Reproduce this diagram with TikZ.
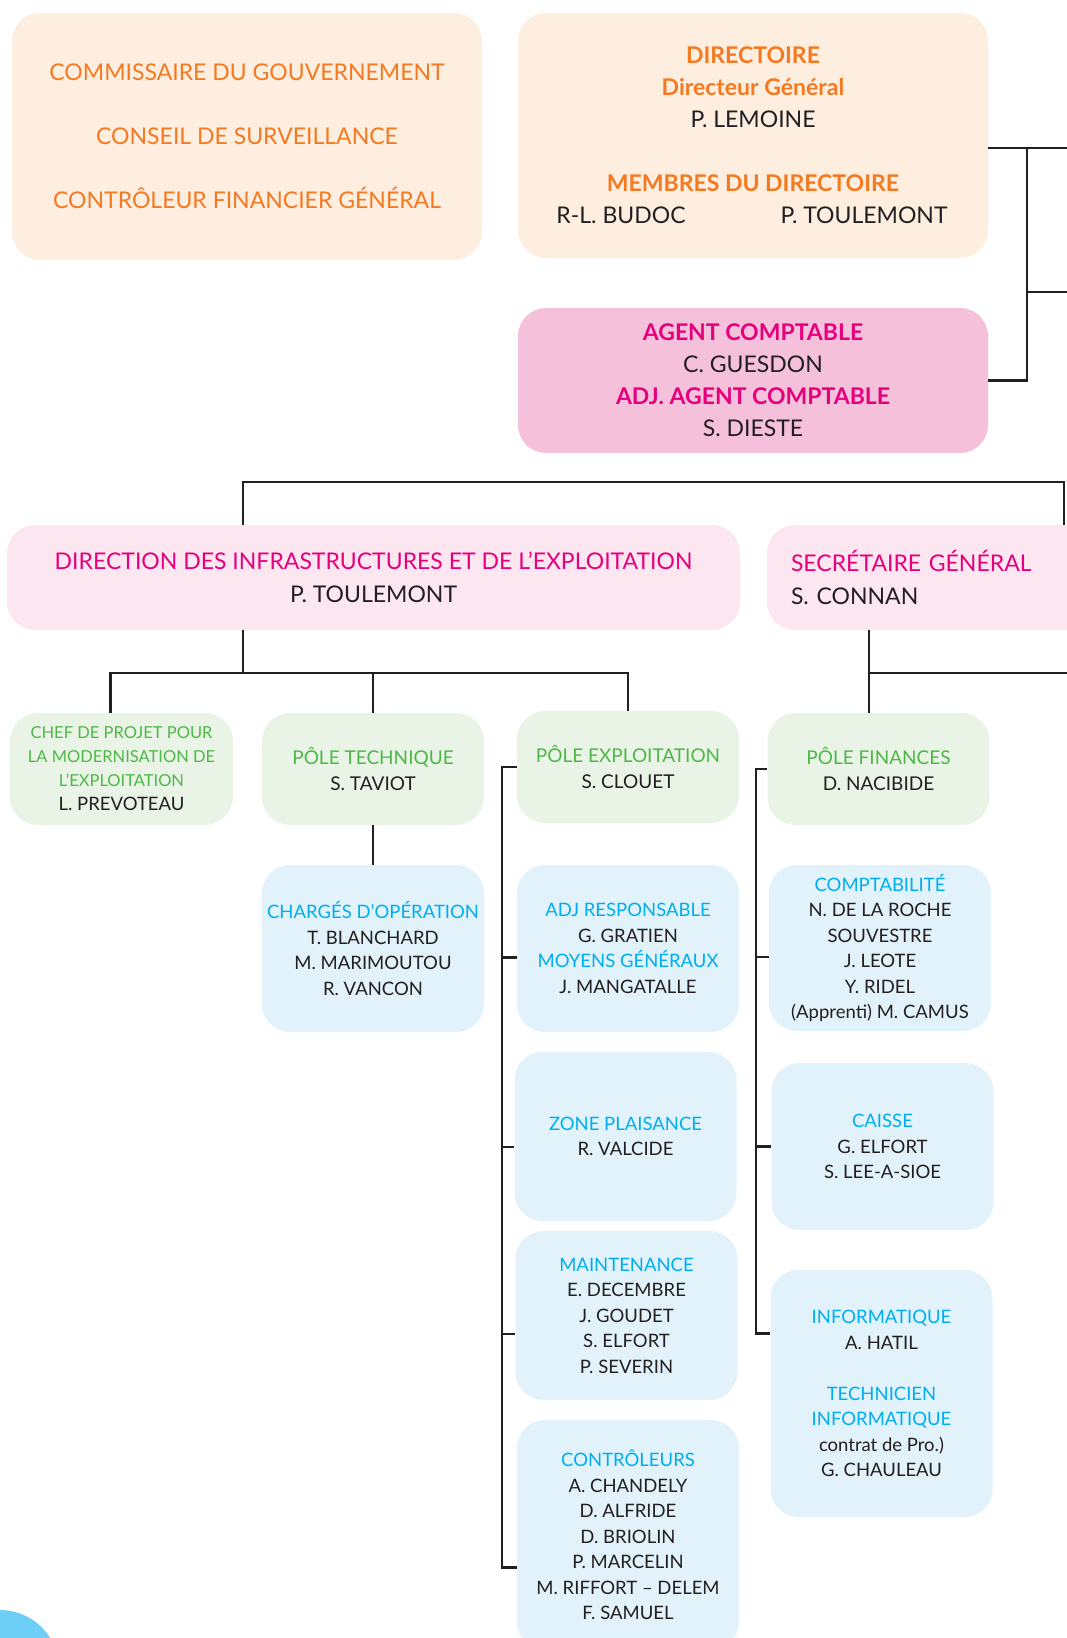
\documentclass[tikz,border=0pt]{standalone}
\usepackage{fontspec}
\setmainfont{Lato}
\definecolor{inkc}{RGB}{35,31,32}
\definecolor{orangec}{RGB}{244,121,32}
\definecolor{peachf}{RGB}{253,238,224}
\definecolor{magentac}{RGB}{230,0,126}
\definecolor{agentf}{RGB}{245,193,218}
\definecolor{rosef}{RGB}{252,231,240}
\definecolor{greenc}{RGB}{77,184,72}
\definecolor{greenf}{RGB}{234,244,230}
\definecolor{bluec}{RGB}{0,174,239}
\definecolor{bluef}{RGB}{225,242,251}
\definecolor{tabc}{RGB}{109,207,246}
\newcommand{\orangetxt}[1]{\textcolor{orangec}{#1}}
\newcommand{\magtxt}[1]{\textcolor{magentac}{#1}}
\newcommand{\greentxt}[1]{\textcolor{greenc}{#1}}
\newcommand{\bluetxt}[1]{\textcolor{bluec}{#1}}
\tikzset{
  box/.style={rectangle, rounded corners=28pt, inner sep=0pt, align=center, text=inkc},
  topbox/.style={box, fill=peachf, minimum width=470pt, font=\fontsize{23}{32}\selectfont},
  agentbox/.style={box, fill=agentf, minimum width=470pt, font=\fontsize{23}{32}\selectfont},
  rosebox/.style={box, fill=rosef, minimum height=105pt, font=\fontsize{23}{33}\selectfont},
  polebox/.style={box, fill=greenf, minimum width=222pt, minimum height=112pt, font=\fontsize{19}{25.5}\selectfont},
  unitbox/.style={box, fill=bluef, minimum width=222pt, font=\fontsize{18.5}{25.5}\selectfont},
  conn/.style={draw=inkc, line width=2.8pt},
}
\begin{document}
\begin{tikzpicture}[x=1pt,y=-1pt]
\useasboundingbox (0,0) rectangle (1067,1638);
\clip (0,0) rectangle (1067,1638);

\node[topbox, minimum height=247pt] (commgouv) at (247,136.5) {\orangetxt{COMMISSAIRE DU GOUVERNEMENT}\\[32pt]\orangetxt{CONSEIL DE SURVEILLANCE}\\[32pt]\orangetxt{CONTRÔLEUR FINANCIER GÉNÉRAL}};
\node[topbox, minimum height=245pt] (directoire) at (753,135.5) {\orangetxt{\bfseries DIRECTOIRE}\\\orangetxt{\bfseries Directeur Général}\\P. LEMOINE\\[32pt]\orangetxt{\bfseries MEMBRES DU DIRECTOIRE}\\\hspace*{-132pt}\makebox[0pt]{R-L. BUDOC}\hspace*{243pt}\makebox[0pt]{P. TOULEMONT}\hspace*{-111pt}};
\node[agentbox, minimum height=145pt] (agentcpt) at (753,380.5) {\magtxt{\bfseries AGENT COMPTABLE}\\C. GUESDON\\\magtxt{\bfseries ADJ. AGENT COMPTABLE}\\S. DIESTE};

\node[rosebox, minimum width=733pt] (dirinfra) at (373.5,577.5) {\magtxt{DIRECTION DES INFRASTRUCTURES ET DE L’EXPLOITATION}\\P. TOULEMONT};
\node[rosebox, align=left, text width=376pt, inner xsep=24pt] (secgen) at (979,577.5) {\magtxt{SECRÉTAIRE GÉNÉRAL}\\S. CONNAN};

\node[polebox, minimum width=223pt, font=\fontsize{16.5}{24}\selectfont] (chefproj) at (121.5,769) {\greentxt{CHEF DE PROJET POUR}\\\greentxt{LA MODERNISATION DE}\\\greentxt{L’EXPLOITATION}\\{\fontsize{18.5}{24}\selectfont L. PREVOTEAU}};
\node[polebox] (poletech) at (373,769) {\greentxt{PÔLE TECHNIQUE}\\S. TAVIOT};
\node[polebox] (poleexpl) at (628,767) {\greentxt{PÔLE EXPLOITATION}\\S. CLOUET};
\node[polebox] (polefin) at (878.5,769) {\greentxt{PÔLE FINANCES}\\D. NACIBIDE};

\node[unitbox, minimum height=167pt] (chargop) at (373,948.5) {\bluetxt{CHARGÉS D’OPÉRATION}\\T. BLANCHARD\\M. MARIMOUTOU\\R. VANCON};
\node[unitbox, minimum height=167pt] (adjresp) at (628,948.5) {\bluetxt{ADJ RESPONSABLE}\\G. GRATIEN\\\bluetxt{MOYENS GÉNÉRAUX}\\J. MANGATALLE};
\node[unitbox, minimum height=169pt] (zoneplais) at (625.5,1136.5) {\bluetxt{ZONE PLAISANCE}\\R. VALCIDE};
\node[unitbox, minimum height=169pt] (maint) at (626.5,1315.5) {\bluetxt{MAINTENANCE}\\E. DECEMBRE\\J. GOUDET\\S. ELFORT\\P. SEVERIN};
\node[unitbox, minimum height=230pt] (controle) at (628,1535) {\bluetxt{CONTRÔLEURS}\\A. CHANDELY\\D. ALFRIDE\\D. BRIOLIN\\P. MARCELIN\\M. RIFFORT – DELEM\\F. SAMUEL};
\node[unitbox, minimum height=166pt] (compta) at (880,948) {\bluetxt{COMPTABILITÉ}\\N. DE LA ROCHE\\SOUVESTRE\\J. LEOTE\\Y. RIDEL\\(Apprenti) M. CAMUS};
\node[unitbox, minimum height=167pt] (caisse) at (882.5,1146.5) {\bluetxt{CAISSE}\\G. ELFORT\\S. LEE-A-SIOE};
\node[unitbox, minimum height=247pt] (info) at (881.5,1393.5) {\bluetxt{INFORMATIQUE}\\A. HATIL\\[25.5pt]\bluetxt{TECHNICIEN}\\\bluetxt{INFORMATIQUE}\\contrat de Pro.)\\G. CHAULEAU};

\coordinate (spine) at (1027,148);
\coordinate (offdir) at (1067,148);
\coordinate (offmid) at (1067,292);
\coordinate (topbar) at (1064,482);
\coordinate (dieleg) at (243,0);
\coordinate (midbar) at (0,673);
\coordinate (sgleg) at (869,0);
\coordinate (offsg) at (1067,673);
\coordinate (ebar) at (502,0);
\coordinate (fbar) at (756,0);
\coordinate (adjtick) at ([yshift=-9pt]adjresp.west);
\coordinate (zonetick) at ([yshift=-10.5pt]zoneplais.west);
\coordinate (mainttick) at ([yshift=-18.5pt]maint.west);
\coordinate (ctrltick) at ([yshift=-32.5pt]controle.west);
\coordinate (comptatick) at ([yshift=-9pt]compta.west);
\coordinate (infotick) at ([yshift=60pt]info.west);

\draw[conn] ([yshift=-12.5pt]directoire.east) -- (offdir);
\draw[conn] (agentcpt.east) -| (spine);
\draw[conn] (spine |- offmid) -- (offmid);
\draw[conn] (secgen.north -| topbar) -- (topbar) -| (dirinfra.north -| dieleg);
\draw[conn] (dirinfra.south -| dieleg) -- (dieleg |- midbar);
\draw[conn] ([xshift=-11pt]chefproj.north) |- (midbar -| poleexpl.north) -- (poleexpl.north);
\draw[conn] (poletech.north) -- (poletech.north |- midbar);
\draw[conn] (poletech.south) -- (chargop.north);
\draw[conn] (secgen.south -| sgleg) -- (polefin.north -| sgleg);
\draw[conn] (sgleg |- midbar) -- (offsg);
\draw[conn] (poleexpl.west) -| (ebar |- ctrltick) -- (ctrltick);
\draw[conn] (ebar |- adjtick) -- (adjtick);
\draw[conn] (ebar |- zonetick) -- (zonetick);
\draw[conn] (ebar |- mainttick) -- (mainttick);
\draw[conn] (polefin.west) -| (fbar |- infotick) -- (infotick);
\draw[conn] (fbar |- comptatick) -- (comptatick);
\draw[conn] (fbar |- caisse.west) -- (caisse.west);

\fill[tabc] (0,1669) circle (59);
\end{tikzpicture}
\end{document}
